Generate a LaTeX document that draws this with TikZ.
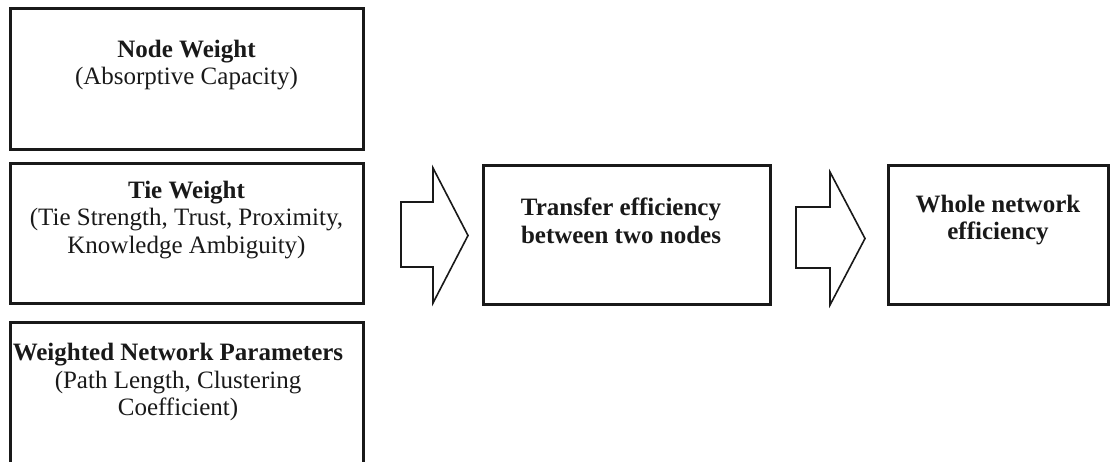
\documentclass[tikz,border=0pt]{standalone}
\usepackage{fontspec}
\setmainfont{Liberation Serif}
\begin{document}
\begin{tikzpicture}[x=1pt,y=-1pt,
  box/.style={draw=black!90,line width=3pt,minimum width=353pt,inner sep=0pt},
  txt/.style={align=center,text=black!90,font=\fontsize{25}{27.5}\selectfont},
  blockarrow/.style={draw=black!90,line width=1.6pt,line join=miter}]

\useasboundingbox (0,0) rectangle (1112,461);

% left column
\node[box,minimum height=141pt] (nodew) at (186.5,78.5) {};
\node[txt] (nodewt) at (186.5,65) {\textbf{Node Weight}\\(Absorptive Capacity)};

\node[box,minimum height=140pt] (tiew) at (186.5,233) {};
\node[txt] (tiewt) at (186.5,220) {\textbf{Tie Weight}\\(Tie Strength, Trust, Proximity,\\Knowledge Ambiguity)};

\node[box,minimum height=150pt] (paramw) at (186.5,397) {};
\node[txt] (paramwt) at (178,382) {\textbf{Weighted Network Parameters}\\(Path Length, Clustering\\Coefficient)};

% middle and right
\node[box,minimum width=287pt,minimum height=139pt] (transfer) at (626.5,234.5) {};
\node[txt] (transfert) at (621,221) {\textbf{Transfer efficiency}\\\textbf{between two nodes}};

\node[box,minimum width=220pt,minimum height=139pt] (whole) at (998,234.5) {};
\node[txt] (wholet) at (998,220) {\textbf{Whole network}\\\textbf{efficiency}};

% block arrows
\draw[blockarrow] (401,202) -- (433,202) -- (433,168) -- (468,235.5) -- (433,303)
  -- (433,267) -- (401,267) -- cycle;
\draw[blockarrow] (796,207) -- (830,207) -- (830,172) -- (865,238.5) -- (830,305)
  -- (830,268) -- (796,268) -- cycle;

\end{tikzpicture}
\end{document}
